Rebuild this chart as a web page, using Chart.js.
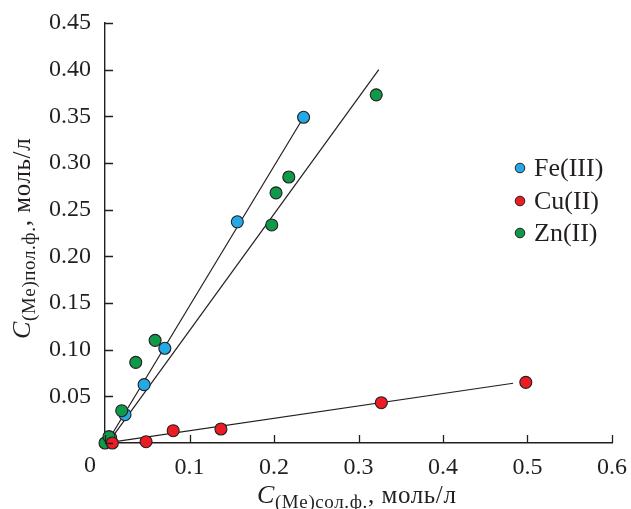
<!DOCTYPE html>
<html>
<head>
<meta charset="utf-8">
<script src="https://cdn.jsdelivr.net/npm/chart.js@4/dist/chart.umd.min.js"></script>
<style>
   body { margin: 0; background: #fff; }
   canvas { display: block; }
</style>
</head>
<body>
<canvas id="chart" width="631" height="509"></canvas>
<script>
// values
const feX = [0.0067, 0.0237, 0.0463, 0.0708, 0.1566, 0.235];
const feY = [0.0057, 0.0303, 0.0625, 0.1015, 0.237, 0.349];
const cuX = [0.0087, 0.0486, 0.0807, 0.1372, 0.327, 0.498];
const cuY = [0.0, 0.0014, 0.0132, 0.015, 0.0432, 0.065];
const znX = [0.0, 0.0047, 0.0198, 0.0364, 0.0593, 0.1973, 0.2024, 0.2175, 0.321];
const znY = [0.0, 0.0068, 0.0346, 0.0864, 0.110, 0.2336, 0.268, 0.285, 0.373];

// fitted lines, start and end
const feFitX = [0.004, 0.235];
const feFitY = [0.003, 0.349];
const znFitX = [0.006, 0.324];
const znFitY = [0.003, 0.400];
const cuFitX = [0.008, 0.483];
const cuFitY = [0.001, 0.064];

const seriesNames = ["Fe(III)", "Cu(II)", "Zn(II)"];
const seriesColors = ["#23a9e6", "#ec1c24", "#0e9a48"];

const INK = "#231f20";
const SERIF = "'Liberation Serif', 'Times New Roman', serif";

function pts(xs, ys) {
   return xs.map((x, i) => ({ x: x, y: ys[i] }));
}

function scatterSet(label, xs, ys, color, order) {
   return {
      label: label,
      data: pts(xs, ys),
      backgroundColor: color,
      borderColor: INK,
      borderWidth: 1.1,
      pointRadius: 6,
      pointHoverRadius: 6,
      order: order,
      clip: false
   }
}

function fitSet(xs, ys) {
   return {
      label: "",
      data: pts(xs, ys),
      showLine: true,
      borderColor: INK,
      borderWidth: 1.2,
      pointRadius: 0,
      fill: false,
      order: 10,
      clip: false
   }
}

// draws text pieces one after another on a baseline
function drawRich(ctx, parts) {
   let x = 0;
   parts.forEach(p => {
      ctx.font = p.font;
      ctx.fillText(p.text, x, p.dy);
      x += ctx.measureText(p.text).width;
   });
}

const extras = {
   id: "extras",
   afterDraw(chart) {
      const ctx = chart.ctx;
      const area = chart.chartArea;
      const xs = chart.scales.x;
      const ys = chart.scales.y;
      ctx.save();
      ctx.strokeStyle = INK;
      ctx.lineWidth = 1.3;

      // inward tick marks
      ctx.beginPath();
      xs.ticks.forEach(t => {
         const px = Math.round(xs.getPixelForValue(t.value)) + 0.5;
         ctx.moveTo(px, area.bottom);
         ctx.lineTo(px, area.bottom - 8);
      });
      ys.ticks.forEach(t => {
         const py = Math.round(ys.getPixelForValue(t.value)) + 0.5;
         ctx.moveTo(area.left, py);
         ctx.lineTo(area.left + 8, py);
      });
      ctx.stroke();

      ctx.fillStyle = INK;

      // origin label
      ctx.font = "24px " + SERIF;
      ctx.textAlign = "center";
      ctx.textBaseline = "middle";
      ctx.fillText("0", area.left - 15, area.bottom + 23);
      ctx.textAlign = "left";
      ctx.textBaseline = "alphabetic";

      // axis titles
      const big = "25px " + SERIF;
      const cFont = "italic 26px " + SERIF;
      const sub = "19px " + SERIF;
      ctx.letterSpacing = "0.6px";

      ctx.save();
      ctx.translate(257, 503);
      drawRich(ctx, [
         { text: "C", font: cFont, dy: 0 },
         { text: "(Me)сол.ф.", font: sub, dy: 5 },
         { text: ", моль/л", font: big, dy: 0 }
      ]);
      ctx.restore();

      ctx.save();
      ctx.translate(30, 339);
      ctx.rotate(-Math.PI / 2);
      drawRich(ctx, [
         { text: "C", font: cFont, dy: 0 },
         { text: "(Me)пол.ф.", font: sub, dy: 5 },
         { text: ", моль/л", font: big, dy: 0 }
      ]);
      ctx.restore();
      ctx.letterSpacing = "0px";

      // legend
      const legendY = [168, 201, 233];
      ctx.font = "26px " + SERIF;
      ctx.textBaseline = "middle";
      seriesNames.forEach((name, i) => {
         ctx.beginPath();
         ctx.arc(520, legendY[i], 4.8, 0, Math.PI * 2);
         ctx.fillStyle = seriesColors[i];
         ctx.fill();
         ctx.lineWidth = 1;
         ctx.strokeStyle = INK;
         ctx.stroke();
         ctx.fillStyle = INK;
         ctx.fillText(name, 534, legendY[i] + 1);
      });

      ctx.restore();
   }
};

const chart = new Chart(document.getElementById("chart"), {
   type: "scatter",
   data: {
      datasets: [
         scatterSet(seriesNames[1], cuX, cuY, seriesColors[1], 1),
         scatterSet(seriesNames[2], znX, znY, seriesColors[2], 2),
         scatterSet(seriesNames[0], feX, feY, seriesColors[0], 3),
         fitSet(feFitX, feFitY),
         fitSet(znFitX, znFitY),
         fitSet(cuFitX, cuFitY)
      ]
   },
   options: {
      responsive: false,
      animation: false,
      devicePixelRatio: 1,
      layout: {
         padding: { top: 23, right: 19, left: 0, bottom: 0 }
      },
      plugins: {
         legend: { display: false },
         tooltip: { enabled: false }
      },
      scales: {
         x: {
            type: "linear",
            min: 0,
            max: 0.6,
            grid: { display: false },
            border: { display: true, color: INK, width: 1.4 },
            ticks: {
               stepSize: 0.1,
               padding: 2,
               color: INK,
               font: { family: SERIF, size: 24 },
               callback: (v) => v === 0 ? "" : v.toFixed(1)
            },
            afterFit: (s) => {
               s.height = 66;
               s.paddingLeft = 0;
               s.paddingRight = 0;
            }
         },
         y: {
            type: "linear",
            min: 0,
            max: 0.45,
            grid: { display: false },
            border: { display: true, color: INK, width: 1.4 },
            ticks: {
               stepSize: 0.05,
               padding: 6,
               color: INK,
               font: { family: SERIF, size: 24 },
               callback: (v) => Math.abs(v) < 1e-9 ? "" : v.toFixed(2)
            },
            afterFit: (s) => {
               s.width = 105;
               s.paddingTop = 0;
               s.paddingBottom = 0;
            }
         }
      }
   },
   plugins: [extras]
});
</script>
</body>
</html>
